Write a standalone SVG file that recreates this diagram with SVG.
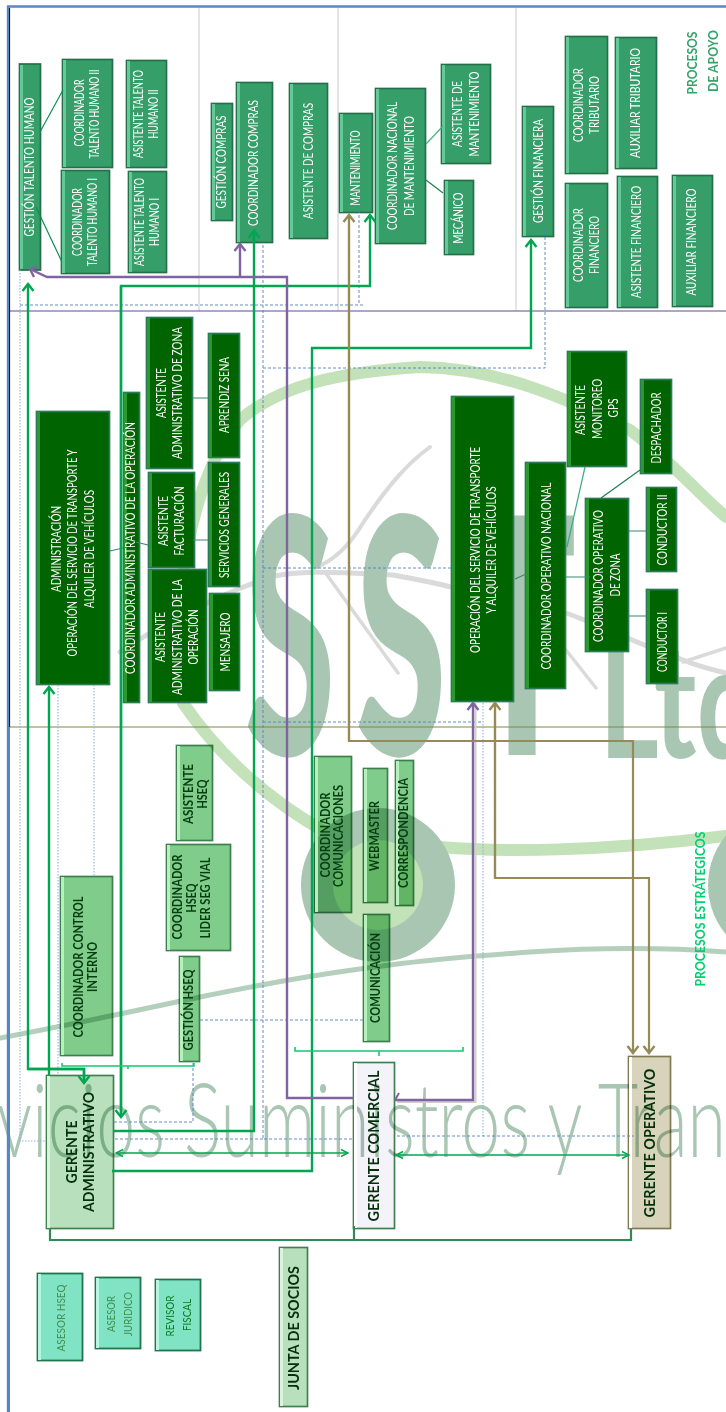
<svg xmlns="http://www.w3.org/2000/svg" width="726" height="1412" viewBox="0 0 726 1412">
<style>
text{font-family:"Lato","Liberation Sans",sans-serif;text-anchor:middle}
.f{stroke-width:1.7}
.h{stroke:none}
.mg .f{fill:#369e69;stroke:#256f4b}.mg .h{fill:#62c997}.mg text{fill:#fff;font-size:12.5px}
.dg .f{fill:#006400;stroke:#2b7a5a}.dg .h{fill:#2a9a2e}.dg text{fill:#fff;font-size:12.5px}
.lg .f{fill:#7fcc8b;stroke:#3f7f4f;mix-blend-mode:multiply}.lg .h{fill:#b6f0bc}.lg text{fill:#063d10;font-size:12.5px;font-weight:700}
.gg .f{fill:#b8e0bc;stroke:#3f8050;mix-blend-mode:multiply}.gg .h{fill:#dcf2dd}.gg text{fill:#04300c;font-size:15.5px;font-weight:700}
.gw .f{fill:#f5f3fa;stroke:#3f8050;mix-blend-mode:multiply}.gw .h{fill:#fff}.gw text{fill:#04300c;font-size:15.5px;font-weight:700}
.gt .f{fill:#d8d4bc;stroke:#7d7a55;mix-blend-mode:multiply}.gt .h{fill:#fff}.gt text{fill:#04300c;font-size:15.5px;font-weight:700}
.aq .f{fill:#80e4c4;stroke:#22744c;stroke-width:1.8}.aq .h{fill:#b8f5e0}.aq text{fill:#3f8f4f;font-size:12px}
.wm{fill:#a8c6b2}
.sw{fill:none;stroke-linecap:round;stroke-linejoin:round}
.cn{fill:none;stroke-linejoin:miter}
.g{stroke:#00a651;stroke-width:2.4}
.p{stroke:#8064a2;stroke-width:2.4}
.t{stroke:#968b58;stroke-width:2.2}
.b{stroke:#19c670;stroke-width:1.6}
.d{stroke:#4f81c8;stroke-width:.9;stroke-dasharray:3 2}
.o{stroke:#8fb4e0;stroke-width:1.1;stroke-dasharray:1.5 1.5}
.ttl{font-weight:700;font-size:13.5px}
</style>
<defs>
<marker id="ag" viewBox="-9 -7 11 14" markerUnits="userSpaceOnUse" markerWidth="11" markerHeight="14" orient="auto"><path d="M-7,-5.5L0,0L-7,5.5" fill="none" stroke="#00a651" stroke-width="2.4"/></marker>
<marker id="ap" viewBox="-9 -7 11 14" markerUnits="userSpaceOnUse" markerWidth="11" markerHeight="14" orient="auto"><path d="M-7,-5.5L0,0L-7,5.5" fill="none" stroke="#8064a2" stroke-width="2.4"/></marker>
<marker id="at" viewBox="-9 -7 11 14" markerUnits="userSpaceOnUse" markerWidth="11" markerHeight="14" orient="auto"><path d="M-7,-5.5L0,0L-7,5.5" fill="none" stroke="#968b58" stroke-width="2.4"/></marker>
<marker id="as" viewBox="-8 -5 9 10" markerUnits="userSpaceOnUse" markerWidth="9" markerHeight="10" orient="auto-start-reverse"><path d="M-7,-3.5L0,0L-7,3.5" fill="none" stroke="#00a651" stroke-width="1.4"/></marker>
</defs>
<rect width="726" height="1412" fill="#fff"/>
<g id="watermark">
<path class="sw" stroke="#c3e2b9" stroke-width="12" d="M183,703C170,600 190,480 240,420C280,385 340,372 420,367C500,368 570,400 630,430C670,460 700,495 726,517"/>
<path class="sw" stroke="#c3e2b9" stroke-width="12" d="M183,703C205,735 245,785 320,829"/>
<path class="sw" stroke="#c3e2b9" stroke-width="12" d="M440,847C500,852 600,852 726,836"/>
<path class="sw" stroke="#dadada" stroke-width="5" d="M120,652C160,625 205,600 270,577C300,570 330,572 393,575C420,580 440,584 451,587L566,613C600,625 640,645 683,660C695,665 705,668 726,673"/>
<path class="sw" stroke="#dadada" stroke-width="4" d="M430,447C405,465 385,490 363,523C350,545 335,560 315,568"/>
<path class="sw" stroke="#dadada" stroke-width="3.5" d="M327,575L398,673M566,650L596,688M683,662L726,648"/>
<path class="sw" stroke="#b5cfbd" stroke-width="5" d="M0,1038C70,1025 130,1012 200,997C260,985 310,975 390,965C440,958 490,955 530,952C590,948 660,947 726,952"/>
<circle cx="378" cy="885" r="77" fill="#a8c6b2"/>
<circle cx="378" cy="885" r="45" fill="#c2e2b8"/>
<circle cx="785" cy="885" r="77" fill="#a8c6b2"/>
<text class="wm" font-weight="900" font-size="100" transform="translate(290,755) scale(1.65,3.3)" font-family="Lato">S</text>
<text class="wm" font-weight="900" font-size="100" transform="translate(401,755) scale(1.65,3.3)" font-family="Lato">S</text>
<text class="wm" font-weight="900" font-size="100" transform="translate(522,755) scale(1.8,3.3)" font-family="Lato">T</text>
<text class="wm" font-weight="700" font-size="160" transform="translate(599,758) scale(.72,1)" style="text-anchor:start">Ltd</text>
<text class="wm" font-weight="300" font-size="103" x="-3" y="1157" textLength="729" lengthAdjust="spacingAndGlyphs" style="text-anchor:start">vicios Suministros y Tran</text>
</g>
<g id="frame" fill="none">
<path d="M199,8V311M338,8V311M516,8V311" stroke="#d2d2d2" stroke-width="1.2"/>
<path d="M9,311H726" stroke="#5f4f96" stroke-width="1.2"/>
<path d="M9,727H726" stroke="#7e8a3e" stroke-width="1.2"/>
<path d="M9.5,8V727" stroke="#000" stroke-width="1.2"/>
<path d="M9.5,727V1412" stroke="#7e8a3e" stroke-width="1"/>
<path d="M8,6V1412M7,6.5H726" stroke="#5a86c4" stroke-width="2.4"/>
</g>
<g id="nodes">
<g id="gestion-th" class="mg"><rect class="f" x="19.5" y="64" width="21" height="206"/><rect class="h" x="20" y="65" width="3" height="204"/><text transform="rotate(-90)"><tspan x="-167" y="34" textLength="139" lengthAdjust="spacingAndGlyphs">GESTIÓN TALENTO HUMANO</tspan></text></g>
<g id="coord-th2" class="mg"><rect class="f" x="62.5" y="59.5" width="50" height="108"/><rect class="h" x="63" y="60" width="3" height="107"/><text transform="rotate(-90)"><tspan x="-113" y="84" textLength="67" lengthAdjust="spacingAndGlyphs">COORDINADOR</tspan><tspan x="-114" y="99" textLength="89" lengthAdjust="spacingAndGlyphs">TALENTO HUMANO II</tspan></text></g>
<g id="coord-th1" class="mg"><rect class="f" x="61.5" y="170.5" width="48" height="103"/><rect class="h" x="62" y="171" width="3" height="102"/><text transform="rotate(-90)"><tspan x="-222" y="82" textLength="68" lengthAdjust="spacingAndGlyphs">COORDINADOR</tspan><tspan x="-222" y="97" textLength="88" lengthAdjust="spacingAndGlyphs">TALENTO HUMANO I</tspan></text></g>
<g id="asist-th2" class="mg"><rect class="f" x="126.5" y="60.5" width="40" height="107"/><rect class="h" x="127" y="61" width="3" height="106"/><text transform="rotate(-90)"><tspan x="-114" y="143" textLength="88" lengthAdjust="spacingAndGlyphs">ASISTENTE  TALENTO</tspan><tspan x="-114" y="158" textLength="49" lengthAdjust="spacingAndGlyphs">HUMANO II</tspan></text></g>
<g id="asist-th1" class="mg"><rect class="f" x="128.5" y="171.5" width="38" height="101"/><rect class="h" x="129" y="172" width="3" height="100"/><text transform="rotate(-90)"><tspan x="-222" y="144" textLength="88" lengthAdjust="spacingAndGlyphs">ASISTENTE  TALENTO</tspan><tspan x="-222" y="159" textLength="48" lengthAdjust="spacingAndGlyphs">HUMANO I</tspan></text></g>
<g id="gestion-compras" class="mg"><rect class="f" x="211.5" y="103.5" width="21" height="117"/><rect class="h" x="212" y="104" width="3" height="116"/><text transform="rotate(-90)"><tspan x="-162" y="226" textLength="93" lengthAdjust="spacingAndGlyphs">GESTIÓN COMPRAS</tspan></text></g>
<g id="coord-compras" class="mg"><rect class="f" x="236.5" y="82.5" width="36" height="160"/><rect class="h" x="237" y="83" width="3" height="159"/><text transform="rotate(-90)"><tspan x="-163" y="258" textLength="126" lengthAdjust="spacingAndGlyphs">COORDINADOR COMPRAS</tspan></text></g>
<g id="asist-compras" class="mg"><rect class="f" x="289.5" y="83.5" width="38" height="155"/><rect class="h" x="290" y="84" width="3" height="154"/><text transform="rotate(-90)"><tspan x="-161" y="313" textLength="116" lengthAdjust="spacingAndGlyphs">ASISTENTE DE COMPRAS</tspan></text></g>
<g id="mantenimiento" class="mg"><rect class="f" x="339.5" y="113.5" width="33" height="99"/><rect class="h" x="340" y="114" width="3" height="98"/><text transform="rotate(-90)"><tspan x="-168" y="360" textLength="75" lengthAdjust="spacingAndGlyphs">MANTENIMIENTO</tspan></text></g>
<g id="coord-mant" class="mg"><rect class="f" x="375.5" y="88.5" width="50" height="155"/><rect class="h" x="376" y="89" width="3" height="154"/><text transform="rotate(-90)"><tspan x="-166" y="397" textLength="128" lengthAdjust="spacingAndGlyphs">COORDINADOR NACIONAL</tspan><tspan x="-166" y="414" textLength="100" lengthAdjust="spacingAndGlyphs">DE MANTENIMIENTO</tspan></text></g>
<g id="asist-mant" class="mg"><rect class="f" x="441.5" y="64.5" width="49" height="99"/><rect class="h" x="442" y="65" width="3" height="98"/><text transform="rotate(-90)"><tspan x="-114" y="462" textLength="66" lengthAdjust="spacingAndGlyphs">ASISTENTE DE</tspan><tspan x="-114" y="479" textLength="85" lengthAdjust="spacingAndGlyphs">MANTENIMIENTO</tspan></text></g>
<g id="mecanico" class="mg"><rect class="f" x="444.5" y="180.5" width="29" height="74"/><rect class="h" x="445" y="181" width="3" height="73"/><text transform="rotate(-90)"><tspan x="-218" y="463" textLength="51" lengthAdjust="spacingAndGlyphs">MECÁNICO</tspan></text></g>
<g id="gestion-fin" class="mg"><rect class="f" x="522.5" y="106.5" width="31" height="130"/><rect class="h" x="523" y="107" width="3" height="129"/><text transform="rotate(-90)"><tspan x="-171" y="543" textLength="104" lengthAdjust="spacingAndGlyphs">GESTIÓN FINANCIERA</tspan></text></g>
<g id="coord-trib" class="mg"><rect class="f" x="565.5" y="36.5" width="42" height="137"/><rect class="h" x="566" y="37" width="3" height="136"/><text transform="rotate(-90)"><tspan x="-105" y="583" textLength="74" lengthAdjust="spacingAndGlyphs">COORDINADOR</tspan><tspan x="-105" y="599" textLength="58" lengthAdjust="spacingAndGlyphs">TRIBUTARIO</tspan></text></g>
<g id="aux-trib" class="mg"><rect class="f" x="615.5" y="37.5" width="41" height="131"/><rect class="h" x="616" y="38" width="3" height="130"/><text transform="rotate(-90)"><tspan x="-103" y="640" textLength="110" lengthAdjust="spacingAndGlyphs">AUXILIAR TRIBUTARIO</tspan></text></g>
<g id="coord-fin" class="mg"><rect class="f" x="565.5" y="183.5" width="42" height="124"/><rect class="h" x="566" y="184" width="3" height="123"/><text transform="rotate(-90)"><tspan x="-245" y="583" textLength="74" lengthAdjust="spacingAndGlyphs">COORDINADOR</tspan><tspan x="-245" y="599" textLength="58" lengthAdjust="spacingAndGlyphs">FINANCIERO</tspan></text></g>
<g id="asist-fin" class="mg"><rect class="f" x="617.5" y="176.5" width="40" height="131"/><rect class="h" x="618" y="177" width="3" height="130"/><text transform="rotate(-90)"><tspan x="-242" y="641" textLength="112" lengthAdjust="spacingAndGlyphs">ASISTENTE FINANCIERO</tspan></text></g>
<g id="aux-fin" class="mg"><rect class="f" x="672.5" y="175.5" width="40" height="131"/><rect class="h" x="673" y="176" width="3" height="130"/><text transform="rotate(-90)"><tspan x="-242" y="696" textLength="107" lengthAdjust="spacingAndGlyphs">AUXILIAR FINANCIERO</tspan></text></g>

<g id="administracion" class="dg"><rect class="f" x="36.5" y="411.5" width="73" height="273"/><rect class="h" x="37" y="412" width="3" height="272"/><text transform="rotate(-90)"><tspan x="-549" y="61" textLength="86" lengthAdjust="spacingAndGlyphs">ADMINISTRACIÓN</tspan><tspan x="-553" y="77" textLength="207" lengthAdjust="spacingAndGlyphs">OPERACIÓN DEL SERVICIO DE TRANSPORTE Y</tspan><tspan x="-549" y="94" textLength="118" lengthAdjust="spacingAndGlyphs">ALQUILER DE VEHÍCULOS</tspan></text></g>
<g id="coord-admin-op" class="dg"><rect class="f" x="123.5" y="392.5" width="16" height="310"/><rect class="h" x="124" y="393" width="3" height="309"/><text transform="rotate(-90)"><tspan x="-548" y="135" textLength="252" lengthAdjust="spacingAndGlyphs">COORDINADOR ADMINISTRATIVO DE LA OPERACIÓN</tspan></text></g>
<g id="asist-admin-zona" class="dg"><rect class="f" x="146.5" y="317.5" width="46" height="151"/><rect class="h" x="147" y="318" width="3" height="150"/><text transform="rotate(-90)"><tspan x="-393" y="166" textLength="50" lengthAdjust="spacingAndGlyphs">ASISTENTE</tspan><tspan x="-393" y="182" textLength="132" lengthAdjust="spacingAndGlyphs">ADMINISTRATIVO DE ZONA</tspan></text></g>
<g id="aprendiz" class="dg"><rect class="f" x="208.5" y="333.5" width="31" height="124"/><rect class="h" x="209" y="334" width="3" height="123"/><text transform="rotate(-90)"><tspan x="-395" y="229" textLength="76" lengthAdjust="spacingAndGlyphs">APRENDIZ SENA</tspan></text></g>
<g id="asist-fact" class="dg"><rect class="f" x="148.5" y="472.5" width="46" height="95"/><rect class="h" x="149" y="473" width="3" height="94"/><text transform="rotate(-90)"><tspan x="-521" y="168" textLength="50" lengthAdjust="spacingAndGlyphs">ASISTENTE</tspan><tspan x="-521" y="184" textLength="69" lengthAdjust="spacingAndGlyphs">FACTURACIÓN</tspan></text></g>
<g id="serv-gen" class="dg"><rect class="f" x="208.5" y="462.5" width="31" height="124"/><rect class="h" x="209" y="463" width="3" height="123"/><text transform="rotate(-90)"><tspan x="-525" y="229" textLength="106" lengthAdjust="spacingAndGlyphs">SERVICIOS GENERALES</tspan></text></g>
<g id="asist-admin-op" class="dg"><rect class="f" x="148.5" y="569.5" width="58" height="133"/><rect class="h" x="149" y="570" width="3" height="132"/><text transform="rotate(-90)"><tspan x="-637" y="165" textLength="50" lengthAdjust="spacingAndGlyphs">ASISTENTE</tspan><tspan x="-637" y="182" textLength="116" lengthAdjust="spacingAndGlyphs">ADMINISTRATIVO  DE LA</tspan><tspan x="-637" y="198" textLength="55" lengthAdjust="spacingAndGlyphs">OPERACIÓN</tspan></text></g>
<g id="mensajero" class="dg"><rect class="f" x="209.5" y="593.5" width="30" height="97"/><rect class="h" x="210" y="594" width="3" height="96"/><text transform="rotate(-90)"><tspan x="-642" y="230" textLength="59" lengthAdjust="spacingAndGlyphs">MENSAJERO</tspan></text></g>
<g id="operacion" class="dg"><rect class="f" x="451.5" y="396.5" width="62" height="305"/><rect class="h" x="452" y="397" width="3" height="304"/><text transform="rotate(-90)"><tspan x="-550" y="480" textLength="206" lengthAdjust="spacingAndGlyphs">OPERACIÓN DEL SERVICIO DE TRANSPORTE</tspan><tspan x="-550" y="496" textLength="127" lengthAdjust="spacingAndGlyphs">Y ALQUILER DE VEHÍCULOS</tspan></text></g>
<g id="coord-op-nac" class="dg"><rect class="f" x="525.5" y="462.5" width="40" height="226"/><rect class="h" x="526" y="463" width="3" height="225"/><text transform="rotate(-90)"><tspan x="-576" y="551" textLength="187" lengthAdjust="spacingAndGlyphs">COORDINADOR OPERATIVO NACIONAL</tspan></text></g>
<g id="asist-gps" class="dg"><rect class="f" x="567.5" y="351.5" width="59" height="115"/><rect class="h" x="568" y="352" width="3" height="114"/><text transform="rotate(-90)"><tspan x="-410" y="585" textLength="50" lengthAdjust="spacingAndGlyphs">ASISTENTE</tspan><tspan x="-409" y="602" textLength="60" lengthAdjust="spacingAndGlyphs">MONITOREO</tspan><tspan x="-408" y="618" textLength="19" lengthAdjust="spacingAndGlyphs">GPS</tspan></text></g>
<g id="despachador" class="dg"><rect class="f" x="640.5" y="379.5" width="31" height="94"/><rect class="h" x="641" y="380" width="3" height="93"/><text transform="rotate(-90)"><tspan x="-428" y="661" textLength="71" lengthAdjust="spacingAndGlyphs">DESPACHADOR</tspan></text></g>
<g id="coord-op-zona" class="dg"><rect class="f" x="585.5" y="498.5" width="43" height="153"/><rect class="h" x="586" y="499" width="3" height="152"/><text transform="rotate(-90)"><tspan x="-576" y="603" textLength="132" lengthAdjust="spacingAndGlyphs">COORDINADOR OPERATIVO</tspan><tspan x="-575" y="620" textLength="43" lengthAdjust="spacingAndGlyphs">DE ZONA</tspan></text></g>
<g id="conductor2" class="dg"><rect class="f" x="646.5" y="487.5" width="30" height="84"/><rect class="h" x="647" y="488" width="3" height="83"/><text transform="rotate(-90)"><tspan x="-530" y="667" textLength="71" lengthAdjust="spacingAndGlyphs">CONDUCTOR II</tspan></text></g>
<g id="conductor1" class="dg"><rect class="f" x="646.5" y="589.5" width="31" height="94"/><rect class="h" x="647" y="590" width="3" height="93"/><text transform="rotate(-90)"><tspan x="-642" y="667" textLength="60" lengthAdjust="spacingAndGlyphs">CONDUCTOR I</tspan></text></g>

<g id="asist-hseq" class="lg"><rect class="f" x="176.5" y="745.5" width="36" height="95"/><rect class="h" x="177" y="746" width="3" height="94"/><text transform="rotate(-90)"><tspan x="-794" y="193" textLength="60" lengthAdjust="spacingAndGlyphs">ASISTENTE</tspan><tspan x="-794" y="207" textLength="29" lengthAdjust="spacingAndGlyphs">HSEQ</tspan></text></g>
<g id="coord-hseq" class="lg"><rect class="f" x="166.5" y="844.5" width="64" height="106"/><rect class="h" x="167" y="845" width="3" height="105"/><text transform="rotate(-90)"><tspan x="-897" y="182" textLength="85" lengthAdjust="spacingAndGlyphs">COORDINADOR</tspan><tspan x="-898" y="196" textLength="29" lengthAdjust="spacingAndGlyphs">HSEQ</tspan><tspan x="-898" y="210" textLength="81" lengthAdjust="spacingAndGlyphs">LIDER SEG VIAL</tspan></text></g>
<g id="gestion-hseq" class="lg"><rect class="f" x="179.5" y="956.5" width="20" height="105"/><rect class="h" x="180" y="957" width="3" height="104"/><text transform="rotate(-90)"><tspan x="-1010" y="193" textLength="81" lengthAdjust="spacingAndGlyphs">GESTIÓN HSEQ</tspan></text></g>
<g id="coord-ci" class="lg"><rect class="f" x="60.5" y="876.5" width="52" height="179"/><rect class="h" x="61" y="877" width="3" height="178"/><text transform="rotate(-90)"><tspan x="-967" y="83" textLength="141" lengthAdjust="spacingAndGlyphs">COORDINADOR CONTROL</tspan><tspan x="-967" y="97" textLength="50" lengthAdjust="spacingAndGlyphs">INTERNO</tspan></text></g>
<g id="coord-com" class="lg"><rect class="f" x="314.5" y="756.5" width="37" height="156"/><rect class="h" x="315" y="757" width="3" height="155"/><text transform="rotate(-90)"><tspan x="-835" y="330" textLength="85" lengthAdjust="spacingAndGlyphs">COORDINADOR</tspan><tspan x="-836" y="343" textLength="102" lengthAdjust="spacingAndGlyphs">COMUNICACIONES</tspan></text></g>
<g id="webmaster" class="lg"><rect class="f" x="363.5" y="768.5" width="24" height="134"/><rect class="h" x="364" y="769" width="3" height="133"/><text transform="rotate(-90)"><tspan x="-836" y="379" textLength="70" lengthAdjust="spacingAndGlyphs">WEBMASTER</tspan></text></g>
<g id="correspondencia" class="lg"><rect class="f" x="395.5" y="760.5" width="18" height="145"/><rect class="h" x="396" y="761" width="3" height="144"/><text transform="rotate(-90)"><tspan x="-833" y="408" textLength="110" lengthAdjust="spacingAndGlyphs">CORRESPONDENCIA</tspan></text></g>
<g id="comunicacion" class="lg"><rect class="f" x="363.5" y="914.5" width="26" height="127"/><rect class="h" x="364" y="915" width="3" height="126"/><text transform="rotate(-90)"><tspan x="-978" y="380" textLength="90" lengthAdjust="spacingAndGlyphs">COMUNICACIÓN</tspan></text></g>

<g id="gerente-admin" class="gg"><rect class="f" x="46.5" y="1075.5" width="67" height="153"/><rect class="h" x="47" y="1076" width="3" height="152"/><text transform="rotate(-90)"><tspan x="-1152" y="77" textLength="63" lengthAdjust="spacingAndGlyphs">GERENTE</tspan><tspan x="-1152" y="94" textLength="120" lengthAdjust="spacingAndGlyphs">ADMINISTRATIVO</tspan></text></g>
<g id="gerente-comercial" class="gw"><rect class="f" x="353.5" y="1062.5" width="41" height="166"/><rect class="h" x="354" y="1063" width="3" height="165"/><text transform="rotate(-90)"><tspan x="-1146" y="379" textLength="151" lengthAdjust="spacingAndGlyphs">GERENTE COMERCIAL</tspan></text></g>
<g id="gerente-operativo" class="gt"><rect class="f" x="628.5" y="1056.5" width="42" height="172"/><rect class="h" x="629" y="1057" width="3" height="171"/><text transform="rotate(-90)"><tspan x="-1143" y="655" textLength="149" lengthAdjust="spacingAndGlyphs">GERENTE OPERATIVO</tspan></text></g>
<g id="junta" class="gg"><rect class="f" x="279.5" y="1247.5" width="28" height="159"/><rect class="h" x="280" y="1248" width="3" height="158"/><text transform="rotate(-90)"><tspan x="-1328" y="299" textLength="124" lengthAdjust="spacingAndGlyphs">JUNTA DE SOCIOS</tspan></text></g>
<g id="asesor-hseq" class="aq"><rect class="f" x="37.5" y="1273.5" width="45" height="87"/><rect class="h" x="38" y="1274" width="3" height="86"/><text transform="rotate(-90)"><tspan x="-1318" y="65" textLength="67" lengthAdjust="spacingAndGlyphs">ASESOR HSEQ</tspan></text></g>
<g id="asesor-juridico" class="aq"><rect class="f" x="95.5" y="1277.5" width="45" height="71"/><rect class="h" x="96" y="1278" width="3" height="70"/><text transform="rotate(-90)"><tspan x="-1314" y="115" textLength="36" lengthAdjust="spacingAndGlyphs">ASESOR</tspan><tspan x="-1314" y="132" textLength="44" lengthAdjust="spacingAndGlyphs">JURIDICO</tspan></text></g>
<g id="revisor-fiscal" class="aq"><rect class="f" x="155.5" y="1279.5" width="45" height="71"/><rect class="h" x="156" y="1280" width="3" height="70"/><text transform="rotate(-90)" style="fill:#0a7a20"><tspan x="-1316" y="174" textLength="41" lengthAdjust="spacingAndGlyphs">REVISOR</tspan><tspan x="-1315" y="191" textLength="32" lengthAdjust="spacingAndGlyphs">FISCAL</tspan></text></g>
</g>
<g id="labels">
<text class="ttl" fill="#37a36b" transform="rotate(-90)"><tspan x="-63" y="697" textLength="63" lengthAdjust="spacingAndGlyphs">PROCESOS</tspan><tspan x="-61" y="718" textLength="62" lengthAdjust="spacingAndGlyphs">DE APOYO</tspan></text>
<text class="ttl" fill="#00d070" transform="rotate(-90)"><tspan x="-909" y="705" textLength="155" lengthAdjust="spacingAndGlyphs">PROCESOS ESTRÁTEGICOS</tspan></text>
</g>
<g id="connectors" class="cn">
<g fill="none">
<path class="o" d="M20,270V1141H46"/>
<path class="o" d="M58,685V1075M94,685V876"/>
<path class="d" d="M20,305H363"/>
<path class="d" d="M359,205V305"/>
<path class="d" d="M263,245V1139H353M115,1139H263"/>
<path class="d" d="M263,368H545V228"/>
<path class="d" d="M263,568H451M263,722H483"/>
<path class="o" d="M483,703V1136"/>
<path class="d" d="M397,1136H634"/>
<path class="d" d="M200,1020H363"/>
<path class="d" d="M114,1122H193V1063"/>
<path d="M40,132L63,90M36,207L62,262" stroke="#0f8f50" stroke-width="1.2"/>
<path d="M426,144L443,126" stroke="#4aaf80" stroke-width="1.2"/>
<path d="M426,180L443,193" stroke="#1f7f50" stroke-width="1.2"/>
<path d="M110,551L123,548M136,542L148,545M193,398H208M193,540H208M515,579L526,574M566,577H590M629,531H646M629,616H646" stroke="#3a8a6a" stroke-width="1.2"/>
<path d="M585,467L567,547" stroke="#3aaa80" stroke-width="1.2"/>
<path d="M640,470L601,498" stroke="#1f7f50" stroke-width="1.2"/>
</g>
<path d="M475.5,703V1102H397" stroke="#d0d0d0" stroke-width="2" fill="none"/>
<path d="M50,1229V1240H631V1229M354,1240V1226" stroke="#2e8b57" stroke-width="2.2" fill="none"/>
<path class="g" d="M84,1083V1069H28V284" marker-end="url(#ag)"/>
<path class="g" d="M28,1069H84V1083" marker-end="url(#ag)"/>
<path class="g" d="M49,1075V687" marker-end="url(#ag)"/>
<path class="g" d="M121,1117V286H370V215" marker-end="url(#ag)"/>
<path class="g" d="M121,286V1117" marker-end="url(#ag)"/>
<path class="g" d="M113,1131H254V231" marker-end="url(#ag)"/>
<path class="g" d="M112,1171H312V348H531V240" marker-end="url(#ag)"/>
<path class="g" style="stroke-width:1.4" d="M116,1153H348" marker-start="url(#as)" marker-end="url(#as)"/>
<path class="g" style="stroke-width:1.4" d="M396,1155H629" marker-start="url(#as)" marker-end="url(#as)"/>
<path class="b" d="M62,1063V1066H194V1063M128,1066V1069"/>
<path class="b" d="M295,1047V1051H463V1047M379,1051V1056"/>
<path class="p" d="M354,1098H287V277H47L30,269" marker-end="url(#ap)"/>
<path class="p" d="M240,277V244" marker-end="url(#ap)"/>
<path class="p" d="M395,1100H473V703" marker-end="url(#ap)"/>
<path class="p" style="stroke-width:2" d="M395,1100L399,1093"/>
<path class="t" d="M495,703V878H649V1053" marker-end="url(#at)"/>
<path class="t" d="M495,878V703" marker-end="url(#at)"/>
<path class="t" d="M349,215V741H633V1053" marker-end="url(#at)"/>
<path class="t" d="M349,741V215" marker-end="url(#at)"/>
</g>
</svg>
